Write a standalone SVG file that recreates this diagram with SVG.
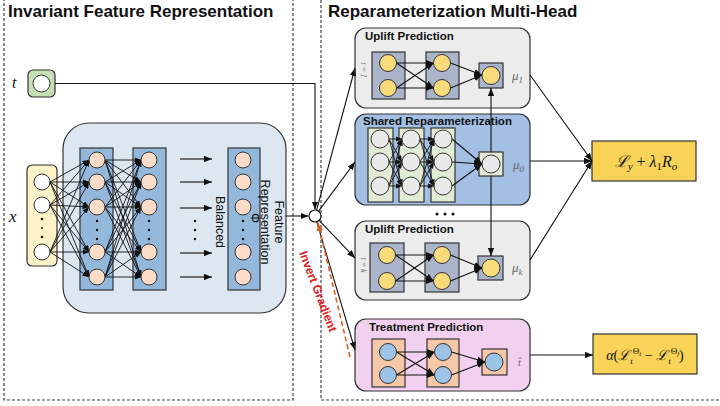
<svg xmlns="http://www.w3.org/2000/svg" width="720" height="406" viewBox="0 0 720 406">
<style>
  .panel { fill: none; stroke: #444; stroke-width: 1.2; stroke-dasharray: 3 2; }
  .title { font-family: "Liberation Sans", Arial, sans-serif; font-weight: bold; fill: #111; }
  .hd { font-family: "Liberation Sans", Arial, sans-serif; font-weight: bold; font-size: 11.5px; fill: #111; }
  .rot { font-family: "Liberation Sans", Arial, sans-serif; font-size: 12.5px; fill: #111; }
  .math { font-family: "Liberation Serif", "DejaVu Serif", serif; font-style: italic; fill: #111; }
  .lbl { font-family: "Liberation Serif", "DejaVu Serif", serif; font-style: italic; fill: #666; }
  .box { stroke: #333; stroke-width: 1.2; }
  .lay { stroke: #333; stroke-width: 1.2; }
  .cir { stroke: #333; stroke-width: 1; }
  .w { fill: #ffffff; }
  .peach { fill: #fbdcc8; }
  .yel { fill: #fadb7c; }
  .gry { fill: #e9e9e9; }
  .blu { fill: #9dc3e6; }
  .ln { stroke: #111; stroke-width: 1.1; fill: none; }
  .net line { stroke: #111; stroke-width: 0.9; marker-end: url(#as); }
  .dot { fill: #111; }
</style>
<defs>
  <marker id="ah" viewBox="0 0 10 8" refX="10" refY="4" markerWidth="8" markerHeight="6.4" markerUnits="userSpaceOnUse" orient="auto">
    <path d="M0,0 L10,4 L0,8 z" fill="#111"/>
  </marker>
  <marker id="as" viewBox="0 0 10 8" refX="10" refY="4" markerWidth="6.5" markerHeight="5.2" markerUnits="userSpaceOnUse" orient="auto">
    <path d="M0,0 L10,4 L0,8 z" fill="#111"/>
  </marker>
  <marker id="ao" viewBox="0 0 10 8" refX="10" refY="4" markerWidth="8" markerHeight="6.4" markerUnits="userSpaceOnUse" orient="auto">
    <path d="M0,0 L10,4 L0,8 z" fill="#e0601a"/>
  </marker>
</defs>

<rect width="720" height="406" fill="#ffffff"/>

<!-- dashed section frames -->
<g id="sections">
  <rect class="panel" x="4" y="-3" width="289" height="403"/>
  <rect class="panel" x="321" y="-3" width="405" height="403"/>
  <text class="title" x="8" y="17" font-size="17">Invariant Feature Representation</text>
  <text class="title" x="328" y="17" font-size="17">Reparameterization Multi-Head</text>
</g>

<!-- treatment input t -->
<g id="t-input">
  <text class="math" x="12" y="88" font-size="16">t</text>
  <rect class="box" x="28" y="70" width="27" height="27" rx="5" fill="#c5e0b4"/>
  <circle class="cir w" cx="41.5" cy="83.5" r="8.5"/>
</g>

<!-- covariate input x -->
<g id="x-input">
  <text class="math" x="9" y="222" font-size="17">x</text>
  <rect class="box" x="27" y="165" width="30" height="101" rx="5" fill="#fdf2c8"/>
  <circle class="cir w" cx="42" cy="182" r="8"/>
  <circle class="cir w" cx="42" cy="205" r="8"/>
  <circle class="cir w" cx="42" cy="252" r="8"/>
  <circle class="dot" cx="42" cy="219" r="1.3"/>
  <circle class="dot" cx="42" cy="228" r="1"/>
  <circle class="dot" cx="42" cy="237" r="1.3"/>
</g>

<!-- representation network -->
<g id="representation">
  <rect class="box" x="63" y="123" width="223" height="190" rx="26" fill="#dde7f1"/>
  <rect class="lay" x="80" y="148" width="33" height="142" fill="#93b8dc"/>
  <rect class="lay" x="133" y="148" width="33" height="142" fill="#93b8dc"/>
  <rect class="lay" x="228" y="148" width="32" height="142" fill="#93b8dc"/>
  <g class="net">
    <line x1="50" y1="182" x2="89" y2="160"/><line x1="50" y1="182" x2="89" y2="182"/><line x1="50" y1="182" x2="89" y2="207"/><line x1="50" y1="182" x2="89" y2="252"/><line x1="50" y1="182" x2="89" y2="277"/>
    <line x1="50" y1="205" x2="89" y2="160"/><line x1="50" y1="205" x2="89" y2="182"/><line x1="50" y1="205" x2="89" y2="207"/><line x1="50" y1="205" x2="89" y2="252"/><line x1="50" y1="205" x2="89" y2="277"/>
    <line x1="50" y1="252" x2="89" y2="160"/><line x1="50" y1="252" x2="89" y2="182"/><line x1="50" y1="252" x2="89" y2="207"/><line x1="50" y1="252" x2="89" y2="252"/><line x1="50" y1="252" x2="89" y2="277"/>
    <line x1="105" y1="160" x2="141" y2="160"/><line x1="105" y1="160" x2="141" y2="182"/><line x1="105" y1="160" x2="141" y2="207"/><line x1="105" y1="160" x2="141" y2="252"/><line x1="105" y1="160" x2="141" y2="277"/>
    <line x1="105" y1="182" x2="141" y2="160"/><line x1="105" y1="182" x2="141" y2="182"/><line x1="105" y1="182" x2="141" y2="207"/><line x1="105" y1="182" x2="141" y2="252"/><line x1="105" y1="182" x2="141" y2="277"/>
    <line x1="105" y1="207" x2="141" y2="160"/><line x1="105" y1="207" x2="141" y2="182"/><line x1="105" y1="207" x2="141" y2="207"/><line x1="105" y1="207" x2="141" y2="252"/><line x1="105" y1="207" x2="141" y2="277"/>
    <line x1="105" y1="252" x2="141" y2="160"/><line x1="105" y1="252" x2="141" y2="182"/><line x1="105" y1="252" x2="141" y2="207"/><line x1="105" y1="252" x2="141" y2="252"/><line x1="105" y1="252" x2="141" y2="277"/>
    <line x1="105" y1="277" x2="141" y2="160"/><line x1="105" y1="277" x2="141" y2="182"/><line x1="105" y1="277" x2="141" y2="207"/><line x1="105" y1="277" x2="141" y2="252"/><line x1="105" y1="277" x2="141" y2="277"/>
  </g>
  <g class="cir peach">
    <circle cx="97" cy="160" r="8"/><circle cx="97" cy="182" r="8"/><circle cx="97" cy="207" r="8"/><circle cx="97" cy="252" r="8"/><circle cx="97" cy="277" r="8"/>
    <circle cx="149" cy="160" r="8"/><circle cx="149" cy="182" r="8"/><circle cx="149" cy="207" r="8"/><circle cx="149" cy="252" r="8"/><circle cx="149" cy="277" r="8"/>
    <circle cx="243" cy="160" r="8"/><circle cx="243" cy="182" r="8"/><circle cx="243" cy="207" r="8"/><circle cx="243" cy="252" r="8"/><circle cx="243" cy="277" r="8"/>
  </g>
  <g class="dot">
    <circle cx="97" cy="221" r="1.2"/><circle cx="97" cy="230" r="1.2"/><circle cx="97" cy="239" r="1.2"/>
    <circle cx="149" cy="221" r="1.2"/><circle cx="149" cy="230" r="1.2"/><circle cx="149" cy="239" r="1.2"/>
    <circle cx="243" cy="221" r="1.2"/><circle cx="243" cy="230" r="1.2"/><circle cx="243" cy="239" r="1.2"/>
    <circle cx="195" cy="221" r="1.2"/><circle cx="195" cy="230" r="1.2"/><circle cx="195" cy="239" r="1.2"/>
  </g>
  <g class="ln" marker-end="url(#ah)">
    <line x1="180" y1="159" x2="212" y2="159"/>
    <line x1="180" y1="182" x2="212" y2="182"/>
    <line x1="180" y1="208" x2="212" y2="208"/>
    <line x1="180" y1="253" x2="212" y2="253"/>
    <line x1="180" y1="277" x2="212" y2="277"/>
  </g>
  <text class="rot" transform="translate(216,222) rotate(90)" text-anchor="middle">Balanced</text>
  <text class="rot" transform="translate(275,222) rotate(90)" text-anchor="middle">Feature</text>
  <text class="rot" transform="translate(261,222) rotate(90)" text-anchor="middle">Representation</text>
  <text class="rot" transform="translate(251,218) rotate(90)" text-anchor="middle" font-size="10">Φ</text>
</g>

<!-- merge point -->
<g id="merge">
  <circle cx="315" cy="216" r="6" fill="#ffffff" stroke="#111" stroke-width="1.1"/>
</g>

<!-- uplift head t = 1 -->
<g id="uplift-1">
  <rect class="box" x="355" y="28" width="175" height="80" rx="11" fill="#ececec"/>
  <text class="hd" x="365" y="40">Uplift Prediction</text>
  <text class="lbl" transform="translate(361,70) rotate(90)" text-anchor="middle" font-size="8" font-style="normal">t = 1</text>
  <rect class="lay" x="372" y="52" width="33" height="47" fill="#aab4cb"/>
  <rect class="lay" x="426" y="52" width="33" height="47" fill="#aab4cb"/>
  <rect class="lay" x="479" y="63" width="24" height="25" fill="#aab4cb"/>
  <g class="ln" marker-end="url(#ah)">
    <line x1="396.5" y1="63" x2="433.5" y2="63"/><line x1="396.5" y1="63" x2="433.5" y2="88"/>
    <line x1="396.5" y1="88" x2="433.5" y2="63"/><line x1="396.5" y1="88" x2="433.5" y2="88"/>
    <line x1="450.5" y1="63" x2="482" y2="75"/><line x1="450.5" y1="88" x2="482" y2="75"/>
  </g>
  <g class="cir yel">
    <circle cx="388" cy="63" r="8.5"/><circle cx="388" cy="88" r="8.5"/>
    <circle cx="442" cy="63" r="8.5"/><circle cx="442" cy="88" r="8.5"/>
    <circle cx="491" cy="75.5" r="9"/>
  </g>
  <text class="lbl" x="512" y="80" font-size="13">μ<tspan font-size="9" dy="3">1</tspan></text>
</g>

<!-- shared reparameterization head -->
<g id="shared">
  <rect class="box" x="355" y="114" width="175" height="91" rx="11" fill="#a3bfe4"/>
  <text class="hd" x="363" y="125">Shared Reparameterization</text>
  <rect class="lay" x="368" y="128" width="25" height="74" fill="#e2ecd4"/>
  <rect class="lay" x="399" y="128" width="25" height="74" fill="#e2ecd4"/>
  <rect class="lay" x="431" y="128" width="24" height="74" fill="#e2ecd4"/>
  <rect class="lay" x="479" y="152" width="24" height="24" fill="#e2ecd4"/>
  <g class="net">
    <line x1="389" y1="139" x2="402" y2="139"/><line x1="389" y1="139" x2="402" y2="162"/><line x1="389" y1="139" x2="402" y2="186"/>
    <line x1="389" y1="162" x2="402" y2="139"/><line x1="389" y1="162" x2="402" y2="162"/><line x1="389" y1="162" x2="402" y2="186"/>
    <line x1="389" y1="186" x2="402" y2="139"/><line x1="389" y1="186" x2="402" y2="162"/><line x1="389" y1="186" x2="402" y2="186"/>
    <line x1="420" y1="139" x2="434" y2="139"/><line x1="420" y1="139" x2="434" y2="162"/><line x1="420" y1="139" x2="434" y2="186"/>
    <line x1="420" y1="162" x2="434" y2="139"/><line x1="420" y1="162" x2="434" y2="162"/><line x1="420" y1="162" x2="434" y2="186"/>
    <line x1="420" y1="186" x2="434" y2="139"/><line x1="420" y1="186" x2="434" y2="162"/><line x1="420" y1="186" x2="434" y2="186"/>
  </g>
  <g class="ln" marker-end="url(#ah)">
    <line x1="452" y1="139" x2="482" y2="164"/><line x1="452" y1="162" x2="482" y2="164"/><line x1="452" y1="186" x2="482" y2="164"/>
  </g>
  <g class="cir gry">
    <circle cx="380" cy="139" r="9"/><circle cx="380" cy="162" r="9"/><circle cx="380" cy="186" r="9"/>
    <circle cx="411" cy="139" r="9"/><circle cx="411" cy="162" r="9"/><circle cx="411" cy="186" r="9"/>
    <circle cx="443" cy="139" r="9"/><circle cx="443" cy="162" r="9"/><circle cx="443" cy="186" r="9"/>
    <circle cx="491" cy="164" r="9"/>
  </g>
  <text class="lbl" x="513" y="169" font-size="13">μ<tspan font-size="9" dy="3">0</tspan></text>
</g>

<!-- further heads omitted -->
<g id="ellipsis" class="dot">
  <circle cx="437" cy="214" r="1.5"/><circle cx="445" cy="214" r="1.5"/><circle cx="453" cy="214" r="1.5"/>
</g>

<!-- uplift head t = k -->
<g id="uplift-k">
  <rect class="box" x="355" y="221" width="175" height="79" rx="11" fill="#ececec"/>
  <text class="hd" x="365" y="233">Uplift Prediction</text>
  <text class="lbl" transform="translate(361,265) rotate(90)" text-anchor="middle" font-size="8" font-style="normal">t = k</text>
  <rect class="lay" x="370" y="243" width="34" height="49" fill="#aab4cb"/>
  <rect class="lay" x="425" y="243" width="34" height="49" fill="#aab4cb"/>
  <rect class="lay" x="478" y="256" width="25" height="24" fill="#aab4cb"/>
  <g class="ln" marker-end="url(#ah)">
    <line x1="395.5" y1="255" x2="433.5" y2="255"/><line x1="395.5" y1="255" x2="433.5" y2="281"/>
    <line x1="395.5" y1="281" x2="433.5" y2="255"/><line x1="395.5" y1="281" x2="433.5" y2="281"/>
    <line x1="450.5" y1="255" x2="482" y2="268"/><line x1="450.5" y1="281" x2="482" y2="268"/>
  </g>
  <g class="cir yel">
    <circle cx="387" cy="255" r="8.5"/><circle cx="387" cy="281" r="8.5"/>
    <circle cx="442" cy="255" r="8.5"/><circle cx="442" cy="281" r="8.5"/>
    <circle cx="491" cy="268" r="9"/>
  </g>
  <text class="lbl" x="512" y="272" font-size="13">μ<tspan font-size="9" dy="3">k</tspan></text>
</g>

<!-- treatment head -->
<g id="treatment">
  <rect class="box" x="355" y="319" width="175" height="72" rx="11" fill="#f1d1ef"/>
  <text class="hd" x="369" y="331">Treatment Prediction</text>
  <rect class="lay" x="372" y="339" width="33" height="48" fill="#f7c8a8"/>
  <rect class="lay" x="427" y="339" width="32" height="48" fill="#f7c8a8"/>
  <rect class="lay" x="482" y="349" width="25" height="26" fill="#f7c8a8"/>
  <g class="ln" marker-end="url(#ah)">
    <line x1="396.5" y1="352" x2="434.5" y2="352"/><line x1="396.5" y1="352" x2="434.5" y2="375"/>
    <line x1="396.5" y1="375" x2="434.5" y2="352"/><line x1="396.5" y1="375" x2="434.5" y2="375"/>
    <line x1="451.5" y1="352" x2="485" y2="362"/><line x1="451.5" y1="375" x2="485" y2="362"/>
  </g>
  <g class="cir blu">
    <circle cx="388" cy="352" r="8.5"/><circle cx="388" cy="375" r="8.5"/>
    <circle cx="443" cy="352" r="8.5"/><circle cx="443" cy="375" r="8.5"/>
    <circle cx="494" cy="362" r="9"/>
  </g>
  <text class="lbl" x="518" y="366" font-size="11">t̂</text>
</g>

<!-- outcome loss -->
<g id="loss-outcome">
  <rect class="box" x="592" y="141" width="104" height="40" fill="#f8d358"/>
  <text class="math" x="646" y="167" text-anchor="middle" font-size="16"><tspan font-family="DejaVu Serif, serif">ℒ</tspan><tspan font-size="11" dy="3">y</tspan><tspan dy="-3" font-style="normal"> + </tspan>λ<tspan font-size="11" dy="3" font-style="normal">1</tspan><tspan dy="-3">R</tspan><tspan font-size="11" dy="3">o</tspan></text>
</g>

<!-- treatment loss -->
<g id="loss-treatment">
  <rect class="box" x="593" y="334" width="104" height="40" fill="#f8d358"/>
  <text class="math" x="645" y="360" text-anchor="middle" font-size="14">α<tspan font-style="normal">(</tspan><tspan font-family="DejaVu Serif, serif">ℒ</tspan><tspan font-size="9" dy="4">t</tspan><tspan font-size="9" dy="-10" font-style="normal">Θ</tspan><tspan font-size="7" dy="2">t</tspan><tspan dy="4" font-style="normal"> − </tspan><tspan font-family="DejaVu Serif, serif">ℒ</tspan><tspan font-size="9" dy="4">t</tspan><tspan font-size="9" dy="-10" font-style="normal">Θ</tspan><tspan font-size="7" dy="2">f</tspan><tspan dy="4" font-style="normal">)</tspan></text>
</g>

<!-- connectors -->
<g id="connectors">
  <g class="ln" marker-end="url(#ah)">
    <polyline points="55,83.5 315,83.5 315,209.5"/>
    <line x1="286" y1="216" x2="308.5" y2="216"/>
    <line x1="316.6" y1="210.2" x2="355" y2="68"/>
    <line x1="318.6" y1="211.2" x2="355" y2="162"/>
    <line x1="319.1" y1="220.3" x2="355" y2="258"/>
    <line x1="316.7" y1="221.7" x2="355" y2="350"/>
    <line x1="491" y1="152" x2="491" y2="88"/>
    <line x1="491" y1="176" x2="491" y2="256"/>
    <line x1="530" y1="75" x2="592" y2="161"/>
    <line x1="530" y1="161" x2="592" y2="161"/>
    <line x1="530" y1="260" x2="592" y2="161"/>
    <line x1="530" y1="355" x2="593" y2="355"/>
  </g>
  <line x1="350" y1="357" x2="318" y2="223" stroke="#e0601a" stroke-width="1.6" stroke-dasharray="5 3" marker-end="url(#ao)"/>
  <text transform="translate(299,253) rotate(69)" font-family="Liberation Sans, Arial, sans-serif" font-weight="bold" font-size="12" fill="#e02020">Invert Gradient</text>
</g>
</svg>
